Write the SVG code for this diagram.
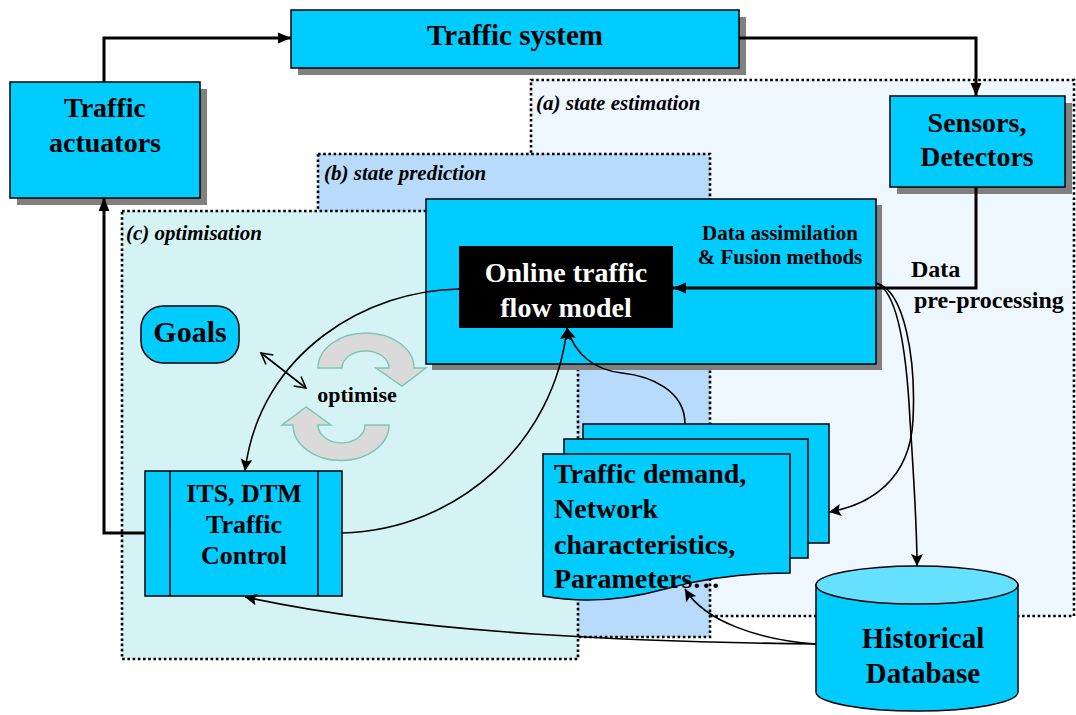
<svg xmlns="http://www.w3.org/2000/svg" width="1076" height="715" viewBox="0 0 1076 715">
<style>
.t{font-family:"Liberation Serif","Times New Roman",serif;font-weight:bold;fill:#000}
.lbl{font-family:"Liberation Serif","Times New Roman",serif;font-weight:bold;font-style:italic;font-size:21px;fill:#000}
.box{fill:#00ccff;stroke:#000;stroke-width:1.5}
.sh{fill:#808080}
.reg{stroke:#000;stroke-width:2.6;stroke-dasharray:2.6 2.6}
.thick{fill:none;stroke:#000;stroke-width:3}
.thin{fill:none;stroke:#000;stroke-width:1.6}
.circ{fill:#dadada;stroke:#7ec7b4;stroke-width:1.5}
</style>
<defs>
<marker id="ah" markerUnits="userSpaceOnUse" markerWidth="14" markerHeight="12" refX="13" refY="6" orient="auto">
<path d="M0,0.5 L13,6 L0,11.5 z" fill="#000"/>
</marker>
<marker id="as" markerUnits="userSpaceOnUse" markerWidth="14" markerHeight="12" refX="12" refY="6" orient="auto">
<path d="M0,0 L12,6 L0,12 L2.5,6 z" fill="#000"/>
</marker>
<marker id="ao" markerUnits="userSpaceOnUse" markerWidth="14" markerHeight="14" refX="12" refY="7" orient="auto-start-reverse">
<path d="M1,1 L12,7 L1,13" fill="none" stroke="#000" stroke-width="1.6"/>
</marker>
</defs>
<rect width="1076" height="715" fill="#fff"/>

<g id="regions">
<rect id="region-a" class="reg" x="531" y="80" width="543" height="536" fill="#eef6fe"/>
<rect id="region-b" class="reg" x="318" y="154" width="392" height="483" fill="#b9dbfb"/>
<rect id="region-c" class="reg" x="122" y="211" width="456" height="448" fill="#d5f3f5"/>
<text class="lbl" x="536" y="110">(a) state estimation</text>
<text class="lbl" x="324" y="180">(b) state prediction</text>
<text class="lbl" x="126" y="240">(c) optimisation</text>
</g>

<g id="traffic-system">
<rect class="sh" x="298" y="17" width="448" height="58"/>
<rect class="box" x="291" y="10" width="448" height="58"/>
<text class="t" x="515" y="45" font-size="29" text-anchor="middle">Traffic system</text>
</g>

<g id="traffic-actuators">
<rect class="sh" x="17" y="89" width="190" height="116"/>
<rect class="box" x="10" y="82" width="190" height="116"/>
<text class="t" x="105" y="117" font-size="28" text-anchor="middle">Traffic</text>
<text class="t" x="105" y="152" font-size="28" text-anchor="middle">actuators</text>
</g>

<g id="sensors">
<rect class="sh" x="897" y="103" width="175" height="91"/>
<rect class="box" x="890" y="96" width="175" height="91"/>
<text class="t" x="977" y="132" font-size="28" text-anchor="middle">Sensors,</text>
<text class="t" x="977" y="166" font-size="28" text-anchor="middle">Detectors</text>
</g>

<g id="data-assimilation">
<rect class="sh" x="432" y="205" width="450" height="165"/>
<rect class="box" x="426" y="199" width="450" height="165"/>
<text class="t" x="780" y="240" font-size="21" text-anchor="middle">Data assimilation</text>
<text class="t" x="780" y="264" font-size="21" text-anchor="middle">&amp; Fusion methods</text>
</g>

<g id="online-model">
<rect x="459" y="246" width="214" height="82" fill="#000"/>
<text class="t" x="566" y="282" font-size="28" text-anchor="middle" fill="#fff" style="fill:#fff">Online traffic</text>
<text class="t" x="566" y="317" font-size="28" text-anchor="middle" fill="#fff" style="fill:#fff">flow model</text>
</g>

<g id="preprocessing-label">
<text class="t" x="911" y="277" font-size="24">Data</text>
<text class="t" x="914" y="308" font-size="24">pre-processing</text>
</g>

<g id="goals">
<rect class="box" x="141" y="306" width="98" height="57" rx="22" ry="22"/>
<text class="t" x="190" y="342" font-size="30" text-anchor="middle">Goals</text>
</g>

<g id="optimise">
<path class="circ" d="M318,368 A48,35 0 0 1 414,368 L426,368 L402,386 L376,368 L389,368 A23.5,17 0 0 0 342,368 Z"/>
<path class="circ" d="M389,425 A48,35.5 0 0 1 293,425 L282,425 L306,407 L331,425 L318,425 A23.5,18 0 0 0 365,425 Z"/>
<text class="t" x="357" y="402" font-size="22" text-anchor="middle">optimise</text>
</g>

<g id="its-control">
<rect class="box" x="145" y="471" width="197" height="125"/>
<line x1="170" y1="471" x2="170" y2="596" stroke="#000" stroke-width="1.5"/>
<line x1="318" y1="471" x2="318" y2="596" stroke="#000" stroke-width="1.5"/>
<text class="t" x="244" y="502" font-size="26" text-anchor="middle">ITS, DTM</text>
<text class="t" x="244" y="533" font-size="26" text-anchor="middle">Traffic</text>
<text class="t" x="244" y="564" font-size="26" text-anchor="middle">Control</text>
</g>

<g id="documents">
<rect class="box" x="583" y="424" width="246" height="119"/>
<rect class="box" x="564" y="439" width="244" height="119"/>
<path class="box" d="M543,454 H790 V573 C745,573 705,578 665,589 C625,600 585,604 543,596 Z"/>
<text class="t" x="554" y="483" font-size="28">Traffic demand,</text>
<text class="t" x="554" y="518" font-size="28">Network</text>
<text class="t" x="554" y="554" font-size="28">characteristics,</text>
<text class="t" x="554" y="588" font-size="28">Parameters…</text>
</g>

<g id="historical-database">
<path d="M816,585 V692 A101,19 0 0 0 1018,692 V585 Z" fill="#00ccff" stroke="#000" stroke-width="1.5"/>
<ellipse cx="917" cy="585" rx="101" ry="19" fill="#66e0ff" stroke="#000" stroke-width="1.5"/>
<text class="t" x="923" y="648" font-size="29" text-anchor="middle">Historical</text>
<text class="t" x="923" y="683" font-size="29" text-anchor="middle">Database</text>
</g>

<g id="connectors">
<path class="thick" d="M104,82 V38 H291" marker-end="url(#ah)"/>
<path class="thick" d="M739,38 H976 V96" marker-end="url(#ah)"/>
<path class="thick" d="M976,187 V288 H673" marker-end="url(#ah)"/>
<path class="thick" d="M145,533 H104 V198" marker-end="url(#ah)"/>
<path class="thin" d="M459,289 C370,290 260,350 245,471" marker-end="url(#as)"/>
<path class="thin" d="M342,533 C460,530 555,440 567,328" marker-end="url(#as)"/>
<path class="thin" d="M685,424 C685,390 650,376 622,373 C595,370 575,355 567,328" marker-end="url(#as)"/>
<path class="thin" d="M876,283 C905,290 916,360 913,420 C910,480 870,505 829,512" marker-end="url(#as)"/>
<path class="thin" d="M876,283 C895,290 906,340 910,420 C914,480 917,530 917,566" marker-end="url(#as)"/>
<path class="thin" d="M816,644 C650,642 420,635 245,597" marker-end="url(#as)"/>
<path class="thin" d="M816,644 C760,640 705,622 685,589" marker-end="url(#as)"/>
<path class="thin" d="M261,353 L306,388" marker-start="url(#ao)" marker-end="url(#ao)"/>
</g>
</svg>
